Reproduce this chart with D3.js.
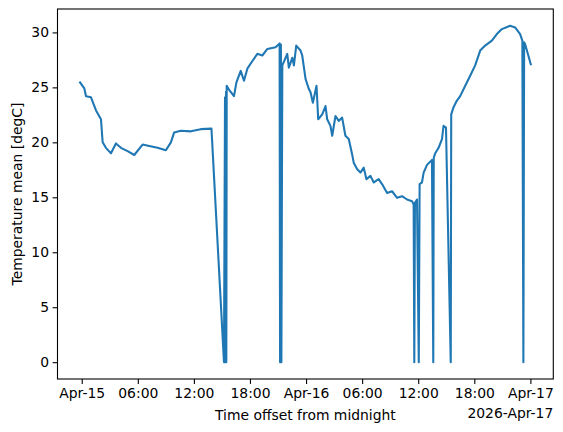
<!DOCTYPE html>
<html>
<head>
<meta charset="utf-8">
<script src="https://cdn.jsdelivr.net/npm/d3@7"></script>
<style>
    body { margin: 0; background: #fff; }
    svg text { font-family: "DejaVu Sans", sans-serif; fill: #000; }
</style>
</head>
<body>
<div class="graph_container"></div>
<script>
// hours after 2026-04-15 00:00 (UTC)
const hoursOffset = [
    -0.18, 0.28, 0.46, 0.99, 1.53, 2.06, 2.24, 2.59, 3.13, 3.66, 4.20, 4.91, 5.62, 6.51, 7.22, 8.11, 9.00, 9.54, 9.89, 10.60,
    11.67, 12.74, 13.88, 15.22, 15.33, 15.38, 15.44, 15.47, 15.51, 15.83, 16.29, 16.55, 17.01, 17.36, 17.72, 18.26, 18.79, 19.32,
    19.86, 20.74, 21.17, 21.22, 21.31, 21.36, 21.46, 21.99, 22.16, 22.53, 22.70, 22.95, 23.41, 23.59, 23.95, 24.30, 24.48, 24.73,
    25.12, 25.30, 25.73, 26.08, 26.26, 26.61, 26.80, 27.15, 27.50, 27.86, 28.21, 28.57, 28.93, 29.10, 29.47, 29.82, 30.17, 30.46,
    30.89, 31.24, 31.77, 32.13, 32.67, 33.20, 33.74, 34.27, 34.80, 35.34, 35.51, 35.58, 35.65, 35.87, 36.06, 36.15, 36.40, 36.58,
    36.94, 37.47, 37.61, 37.66, 37.82, 38.18, 38.54, 38.71, 38.97, 39.48, 39.53, 39.78, 40.14, 40.49, 41.03, 41.56, 42.09, 42.63,
    43.16, 43.88, 44.41, 44.95, 45.83, 46.37, 46.90, 47.14, 47.25, 47.33, 47.43, 47.78, 48.04
];
const tempMean = [
    25.45, 24.9, 24.2, 24.1, 22.9, 22.1, 20.0, 19.5, 19.0, 19.9, 19.5, 19.2, 18.85, 19.8, 19.67, 19.5, 19.28, 20.0, 20.9, 21.05,
    21.0, 21.2, 21.25, 0, 24.1, 0, 24.6, 0, 25.15, 24.7, 24.2, 25.45, 26.5, 25.6, 26.7, 27.4, 28.05, 27.9,
    28.5, 28.65, 29.0, 0, 28.9, 0, 27.0, 28.05, 26.8, 27.7, 27.0, 28.8, 28.35, 27.9, 25.75, 24.85, 24.55, 23.6,
    25.15, 22.1, 22.55, 23.3, 22.1, 21.5, 20.6, 22.4, 21.95, 22.25, 20.6, 20.3, 18.9, 18.15, 17.55, 17.25, 17.7, 16.65,
    16.95, 16.35, 16.65, 16.2, 15.4, 15.55, 14.95, 15.1, 14.8, 14.65, 14.35, 0, 14.5, 14.8, 0, 16.2, 16.35, 17.25,
    17.95, 18.4, 0, 18.6, 19.0, 19.5, 20.3, 21.5, 21.35, 0, 22.55, 23.2, 23.8, 24.2, 25.15, 26.05, 27.0, 28.35,
    28.8, 29.25, 29.85, 30.3, 30.6, 30.45, 29.85, 29.25, 0, 29.1, 28.95, 27.9, 27.1
];
const yTicks = [0, 5, 10, 15, 20, 25, 30];
const xTickHours = [0, 6, 12, 18, 24, 30, 36, 42, 48];
const xLabel = "Time offset from midnight";
const yLabel = "Temperature mean [degC]";
const offsetLabel = "2026-Apr-17";

const W = 563, H = 432;
const margin = { top: 9, right: 9.7, bottom: 53, left: 57.5 };
const width = W - margin.left - margin.right;
const height = H - margin.top - margin.bottom;
const fontSize = "13.9px";
const base = Date.UTC(2026, 3, 15);
const toDate = (h) => new Date(base + h * 3600 * 1000);

const points = hoursOffset.map((h, i) => ({ t: toDate(h), v: tempMean[i] }));

// matplotlib style 5% padding
const hExt = d3.extent(hoursOffset);
const hPad = (hExt[1] - hExt[0]) * 0.05;
const vExt = d3.extent(tempMean);
const vPad = (vExt[1] - vExt[0]) * 0.05;

const xScale = d3.scaleUtc().domain([toDate(hExt[0] - hPad), toDate(hExt[1] + hPad)]).range([0, width]);
const yScale = d3.scaleLinear().domain([vExt[0] - vPad, vExt[1] + vPad]).range([height, 0]);

const svg = d3.select(".graph_container").append("svg").attr("width", W).attr("height", H);
const g = svg.append("g").attr("transform", "translate(" + margin.left + "," + margin.top + ")");

const tickFmt = (d) => (d.getUTCHours() === 0 ? d3.utcFormat("%b-%d")(d) : d3.utcFormat("%H:%M")(d));

const xAxis = d3.axisBottom(xScale).tickValues(xTickHours.map(toDate)).tickFormat(tickFmt).tickSize(4.9).tickPadding(4.4);
const yAxis = d3.axisLeft(yScale).tickValues(yTicks).tickFormat(d3.format("d")).tickSize(4.9).tickPadding(3.6);

const gx = g.append("g").attr("transform", "translate(0," + height + ")").call(xAxis);
const gy = g.append("g").call(yAxis);
[gx, gy].forEach((a) => {
    a.select(".domain").remove();
    a.selectAll(".tick line").attr("stroke", "#000").attr("stroke-width", 1.1);
    a.selectAll(".tick text").attr("font-size", fontSize).attr("font-family", "DejaVu Sans");
});

// line
const line = d3.line().x((d) => xScale(d.t)).y((d) => yScale(d.v));
g.append("path")
    .datum(points)
    .attr("fill", "none")
    .attr("stroke", "#1f77b4")
    .attr("stroke-width", 2.08)
    .attr("stroke-linejoin", "round")
    .attr("stroke-linecap", "square")
    .attr("d", line);

// frame
g.append("rect").attr("width", width).attr("height", height).attr("fill", "none").attr("stroke", "#000").attr("stroke-width", 1.1);

// labels
g.append("text").attr("x", width / 2).attr("y", height + 40.5).attr("text-anchor", "middle").attr("font-size", fontSize).text(xLabel);
g.append("text").attr("x", width).attr("y", height + 38.5).attr("text-anchor", "end").attr("font-size", fontSize).text(offsetLabel);
g.append("text")
    .attr("transform", "rotate(-90)")
    .attr("x", -height / 2)
    .attr("y", -36)
    .attr("text-anchor", "middle")
    .attr("font-size", fontSize)
    .text(yLabel);
</script>
</body>
</html>
